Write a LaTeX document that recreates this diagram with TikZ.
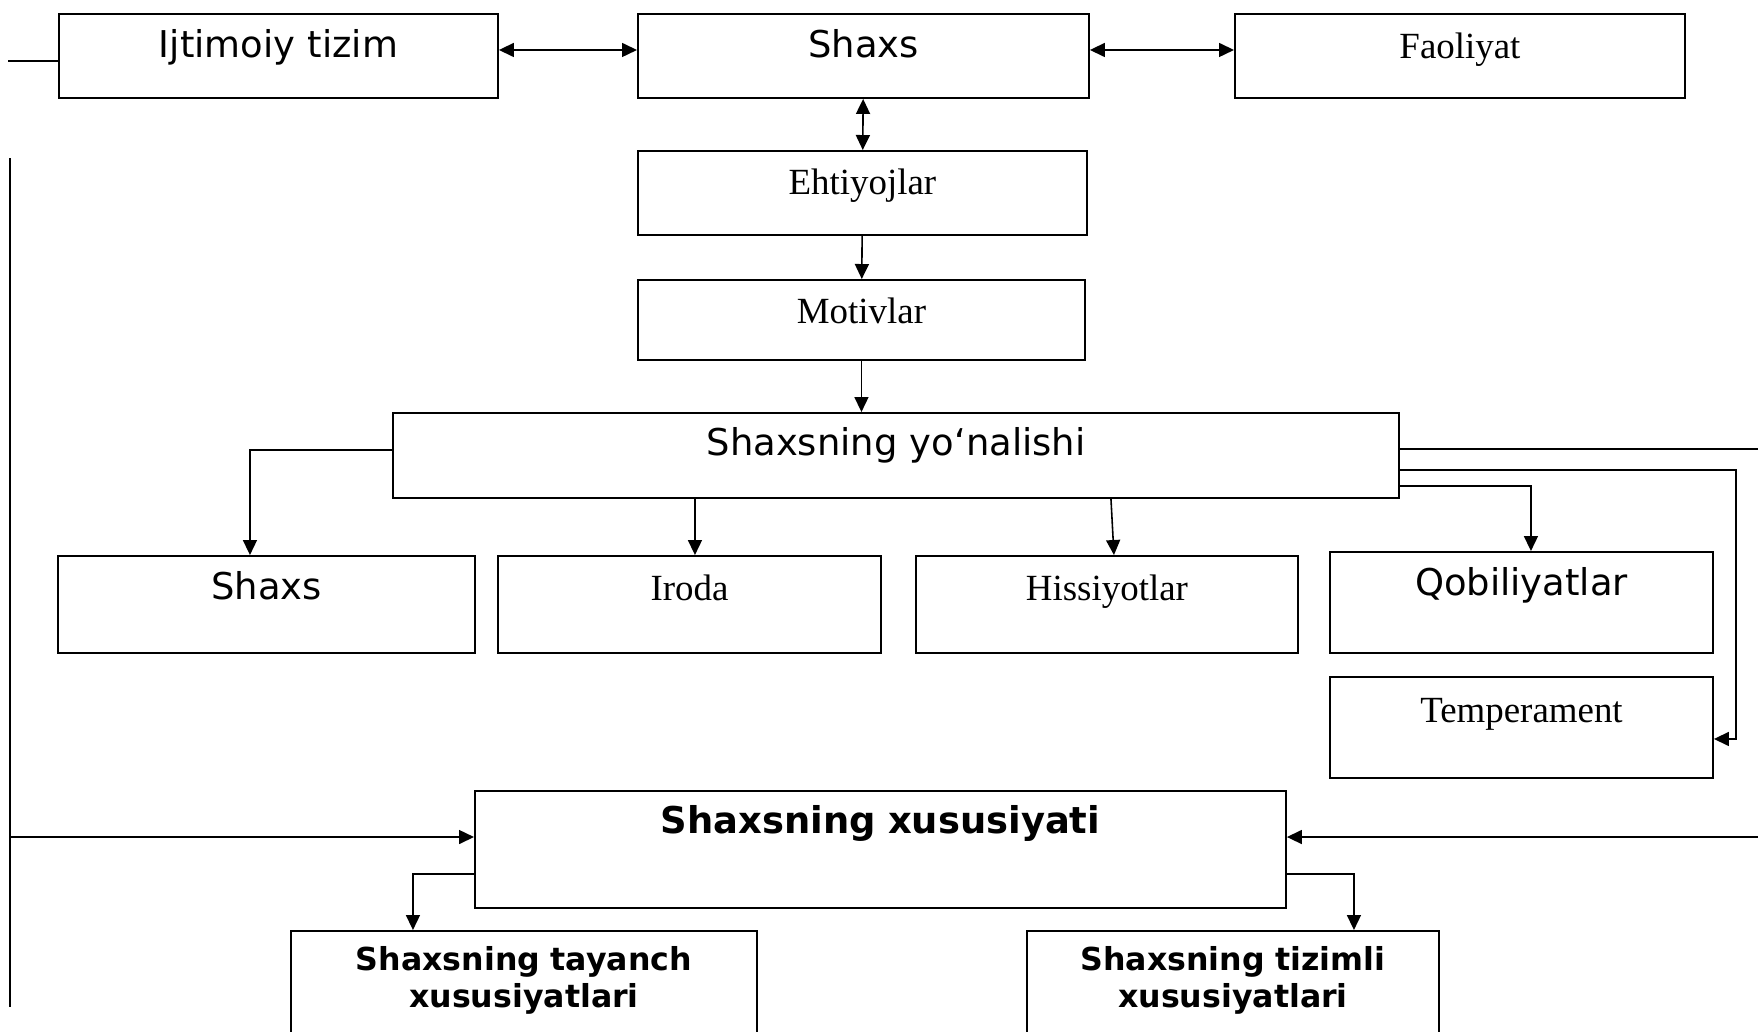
\documentclass[tikz,border=0pt]{standalone}
\usepackage{fontspec}
\setmainfont{Liberation Serif}
\setsansfont{DejaVu Sans}
\usetikzlibrary{arrows.meta}

\begin{document}
\begin{tikzpicture}[x=0.1mm, y=-0.1mm, >={Triangle[length=1.5mm, width=1.4mm]},
    line width=0.45pt,
    main node/.style={draw, line width=0.55pt, inner sep=0pt, anchor=north west, align=center, font=\sffamily\fontsize{10.5}{12.6}\selectfont},
    serif node/.style={main node, font=\rmfamily\fontsize{10.5}{12.6}\selectfont},
    bold node/.style={main node, font=\sffamily\bfseries\fontsize{10.5}{12.6}\selectfont},
    small node/.style={main node, font=\sffamily\bfseries\fontsize{9}{10.5}\selectfont}]

    \clip (0,0) rectangle (1758,1031);

    % Top row
    \node[main node, text width=43.9mm, text height=4.4mm, text depth=4.0mm] (ijt) at (58,13) {Ijtimoiy tizim};
    \node[main node, text width=45.1mm, text height=4.4mm, text depth=4.0mm] (shaxs) at (637,13) {Shaxs};
    \node[serif node, text width=45.0mm, text height=4.5mm, text depth=3.9mm] (faol) at (1234,13) {Faoliyat};

    \node[serif node, text width=44.9mm, text height=4.4mm, text depth=4.0mm] (ehti) at (637,150) {Ehtiyojlar};
    \node[serif node, text width=44.7mm, text height=4.4mm, text depth=3.6mm] (moti) at (637,279) {Motivlar};

    \node[main node, text width=100.6mm, text height=4.3mm, text depth=4.2mm] (yonal) at (392,412) {Shaxsning yoʻnalishi};

    % Second row
    \node[main node, text width=41.7mm, text height=4.4mm, text depth=5.3mm] (sh2) at (57,555) {Shaxs};
    \node[serif node, text width=38.3mm, text height=4.5mm, text depth=5.2mm] (iroda) at (497,555) {Iroda};
    \node[serif node, text width=38.2mm, text height=4.5mm, text depth=5.2mm] (hiss) at (915,555) {Hissiyotlar};
    \node[main node, text width=38.3mm, text height=4.4mm, text depth=5.7mm] (qobil) at (1329,551) {Qobiliyatlar};
    \node[serif node, text width=38.3mm, text height=4.6mm, text depth=5.5mm] (temp) at (1329,676) {Temperament};

    % Bottom part
    \node[bold node, text width=81.1mm, text height=4.3mm, text depth=7.4mm] (xus) at (474,790) {Shaxsning xususiyati};
    \node[small node, text width=46.6mm, text height=4.0mm, text depth=9mm] (tay) at (290,930) {Shaxsning tayanch\\xususiyatlari};
    \node[small node, text width=41.2mm, text height=4.0mm, text depth=9mm] (tiz) at (1026,930) {Shaxsning tizimli\\xususiyatlari};

    \coordinate (ltop) at (8,61);
    \coordinate (lup) at (10,158);
    \coordinate (ldown) at (10,1007);
    \coordinate (lmid) at (10,837);
    \coordinate (rtop) at (1760,449);
    \coordinate (rmid) at (1760,837);

    \draw[<->] ([yshift=0.6mm]ijt.east) -- ([yshift=0.6mm]shaxs.west);
    \draw[<->] ([yshift=0.6mm]shaxs.east) -- ([yshift=0.6mm]faol.west);
    \draw[<->] (shaxs) -- (ehti);
    \draw[->] (ehti) -- (moti);
    \draw[->] (moti.south) -- (moti.south |- yonal.north);

    \draw[->] ([yshift=0.55mm]yonal.west) -| ([xshift=-1.65mm]sh2.north);
    \draw[->] ([xshift=0.55mm]iroda.north |- yonal.south) -- ([xshift=0.55mm]iroda.north);
    \draw[->] ([xshift=0.4mm]hiss.north |- yonal.south) -- ([xshift=0.7mm]hiss.north);
    \draw[->] ([yshift=-3.05mm]yonal.east) -| ([xshift=0.95mm]qobil.north);
    \draw[->] ([yshift=-1.45mm]yonal.east) -| ([xshift=2.2mm, yshift=-1.15mm]temp.east) -- ([yshift=-1.15mm]temp.east);
    \draw (rtop -| yonal.east) -- (rtop);

    % Side lines
    \draw (ltop) -- (ltop -| ijt.west);
    \draw (lup) -- (ldown);
    \draw[->] (lmid) -- (lmid -| xus.west);
    \draw[->] (rmid) -- (rmid -| xus.east);

    \draw[->] ([yshift=-2.45mm]xus.west) -| ([xshift=-11.1mm]tay.north);
    \draw[->] ([yshift=-2.45mm]xus.east) -| ([xshift=12.1mm]tiz.north);

\end{tikzpicture}
\end{document}
